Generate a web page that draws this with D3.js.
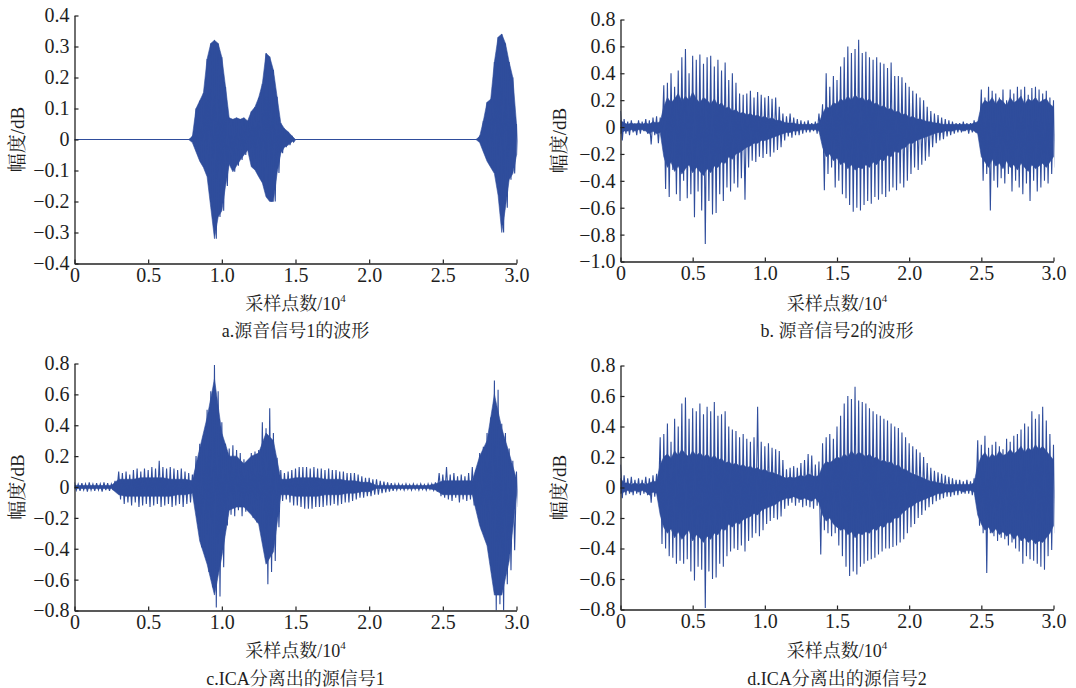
<!DOCTYPE html>
<html><head><meta charset="utf-8">
<script src="https://cdn.jsdelivr.net/npm/d3@7"></script>
<style>
body{margin:0;background:#fff}
svg text{font-family:"Liberation Serif","Times New Roman","Noto Serif CJK SC","Noto Sans CJK SC",serif;fill:#1e1e1e}
</style></head><body>
<svg id="chart" width="1076" height="688"></svg>
<script>
// ---------- data ----------
const samples = d3.range(0, 30001, 250);      // envelope positions (sample index)
const coarseSamples = d3.range(0, 30001, 500);
const xTicks = [0, 5000, 10000, 15000, 20000, 25000, 30000];
const xTickLabels = ["0", "0.5", "1.0", "1.5", "2.0", "2.5", "3.0"];
const yTicksA = [-0.4, -0.3, -0.2, -0.1, 0, 0.1, 0.2, 0.3, 0.4];
const yLabelsA = ["−0.4", "−0.3", "−0.2", "−0.1", "0", "0.1", "0.2", "0.3", "0.4"];
const yTicksB = [-1.0, -0.8, -0.6, -0.4, -0.2, 0, 0.2, 0.4, 0.6, 0.8];
const yLabelsB = ["−1.0", "−0.8", "−0.6", "−0.4", "−0.2", "0", "0.2", "0.4", "0.6", "0.8"];
const yTicksCD = [-0.8, -0.6, -0.4, -0.2, 0, 0.2, 0.4, 0.6, 0.8];
const yLabelsCD = ["−0.8", "−0.6", "−0.4", "−0.2", "0", "0.2", "0.4", "0.6", "0.8"];
const titles = ["a.源音信号1的波形", "b. 源音信号2的波形", "c.ICA分离出的源信号1", "d.ICA分离出的源信号2"];
const xLabelMain = "采样点数/10";
const xLabelSup = "4";
const yLabel = "幅度/dB";

// panel a: source signal 1 (peak envelope, 250-sample steps)
const aHi = [0,0,0,0,0,0,0,0,0,0,0,0,0,0,0,0,0,0,0,0,0,0,0,0,0,0,0,0,0,0,0,0,
  0.01,0.10,0.125,0.15,0.26,0.31,0.32,0.31,0.265,0.17,0.07,0.065,0.07,0.065,0.07,0.06,0.09,0.105,0.135,0.18,0.278,0.267,0.224,0.138,0.053,0.035,0.025,0.012,0,
  0,0,0,0,0,0,0,0,0,0,0,0,0,0,0,0,0,0,0,0,0,0,0,0,0,0,0,0,0,0,0,0,0,0,0,0,0,0,0,0,0,0,0,0,0,0,0,0,0,
  0.01,0.06,0.12,0.13,0.25,0.33,0.34,0.31,0.25,0.20,0.05];
const aLo = [0,0,0,0,0,0,0,0,0,0,0,0,0,0,0,0,0,0,0,0,0,0,0,0,0,0,0,0,0,0,0,0,
  -0.01,-0.04,-0.07,-0.09,-0.12,-0.22,-0.32,-0.25,-0.23,-0.15,-0.08,-0.104,-0.085,-0.066,-0.05,-0.034,-0.088,-0.098,-0.12,-0.14,-0.185,-0.20,-0.20,-0.108,-0.044,-0.025,-0.018,-0.008,0,
  0,0,0,0,0,0,0,0,0,0,0,0,0,0,0,0,0,0,0,0,0,0,0,0,0,0,0,0,0,0,0,0,0,0,0,0,0,0,0,0,0,0,0,0,0,0,0,0,0,
  -0.01,-0.04,-0.07,-0.09,-0.11,-0.18,-0.30,-0.22,-0.13,-0.11,-0.05];

// panel b: source signal 2
const bHi = [0.12,0.06,0.04,0.05,0.03,0.05,0.04,0.06,0.05,0.07,0.08,0.07,
  0.31,0.33,0.40,0.30,0.42,0.52,0.58,0.40,0.53,0.50,0.54,0.47,0.52,0.53,0.45,0.50,0.42,0.48,0.35,0.40,0.33,0.25,0.24,0.25,0.27,0.22,0.26,0.24,0.22,0.23,0.21,0.22,0.15,0.10,0.08,0.10,0.07,0.06,0.05,0.04,0.05,0.03,0.04,0.10,
  0.17,0.40,0.30,0.38,0.35,0.45,0.52,0.60,0.55,0.58,0.65,0.55,0.56,0.52,0.50,0.52,0.48,0.47,0.44,0.48,0.38,0.38,0.37,0.33,0.30,0.27,0.25,0.22,0.20,0.15,0.12,0.10,0.09,0.07,0.06,0.05,0.04,0.03,0.03,0.04,0.03,0.03,0.05,0.04,
  0.28,0.22,0.30,0.27,0.25,0.22,0.28,0.20,0.28,0.25,0.30,0.28,0.30,0.24,0.29,0.30,0.28,0.25,0.27,0.22,0.20];
const bLo = [-0.10,-0.05,-0.06,-0.04,-0.06,-0.05,-0.03,-0.05,-0.13,-0.06,-0.12,-0.08,
  -0.46,-0.52,-0.32,-0.50,-0.55,-0.40,-0.53,-0.50,-0.67,-0.48,-0.62,-0.87,-0.55,-0.65,-0.64,-0.50,-0.55,-0.45,-0.48,-0.42,-0.45,-0.38,-0.54,-0.30,-0.25,-0.26,-0.22,-0.23,-0.20,-0.22,-0.19,-0.17,-0.15,-0.10,-0.07,-0.08,-0.06,-0.06,-0.05,-0.04,-0.04,-0.03,-0.05,-0.06,
  -0.47,-0.35,-0.30,-0.45,-0.40,-0.50,-0.53,-0.58,-0.63,-0.60,-0.62,-0.58,-0.55,-0.57,-0.52,-0.54,-0.50,-0.52,-0.48,-0.45,-0.47,-0.42,-0.45,-0.40,-0.35,-0.30,-0.32,-0.28,-0.25,-0.22,-0.15,-0.12,-0.10,-0.09,-0.07,-0.06,-0.05,-0.04,-0.04,-0.03,-0.05,-0.04,-0.04,-0.08,
  -0.40,-0.35,-0.62,-0.40,-0.45,-0.38,-0.42,-0.35,-0.48,-0.40,-0.45,-0.50,-0.42,-0.55,-0.40,-0.48,-0.45,-0.40,-0.42,-0.35,-0.30];
const bCoreHi = [0.05,0.03,0.02,0.03,0.02,0.03,0.02,0.03,0.02,0.04,0.03,0.04,
  0.15,0.22,0.18,0.21,0.25,0.19,0.23,0.20,0.26,0.21,0.18,0.22,
  0.20,0.17,0.21,0.16,0.18,0.14,0.15,0.12,0.13,0.10,0.11,0.09,
  0.10,0.08,0.09,0.07,0.08,0.06,0.07,0.05,0.05,0.04,0.03,0.03,
  0.03,0.02,0.02,0.02,0.02,0.02,0.02,0.03,
  0.10,0.15,0.14,0.18,0.17,0.21,0.19,0.23,0.20,0.24,0.21,0.22,
  0.19,0.21,0.17,0.18,0.15,0.16,0.13,0.14,0.11,0.12,0.09,0.10,
  0.07,0.08,0.06,0.06,0.05,0.04,0.04,0.03,0.03,0.02,0.02,0.02,
  0.02,0.02,0.02,0.02,0.02,0.02,0.03,0.04,
  0.16,0.20,0.18,0.22,0.17,0.21,0.19,0.16,0.22,0.18,0.20,0.23,0.17,0.21,0.19,0.22,0.18,0.20,0.21,0.17,0.15];
const bCoreLo = [-0.05,-0.03,-0.03,-0.02,-0.03,-0.02,-0.02,-0.03,-0.05,-0.03,-0.05,-0.04,
  -0.22,-0.30,-0.26,-0.33,-0.29,-0.35,-0.31,-0.28,-0.34,-0.30,-0.33,-0.36,
  -0.31,-0.34,-0.29,-0.30,-0.26,-0.27,-0.22,-0.24,-0.20,-0.19,-0.17,-0.15,
  -0.14,-0.12,-0.12,-0.10,-0.10,-0.09,-0.08,-0.07,-0.06,-0.05,-0.04,-0.04,
  -0.03,-0.03,-0.02,-0.02,-0.02,-0.02,-0.02,-0.03,
  -0.15,-0.22,-0.20,-0.25,-0.23,-0.28,-0.26,-0.31,-0.28,-0.32,-0.30,-0.31,
  -0.28,-0.30,-0.26,-0.28,-0.24,-0.25,-0.21,-0.22,-0.18,-0.19,-0.16,-0.15,
  -0.12,-0.12,-0.10,-0.09,-0.08,-0.07,-0.06,-0.05,-0.04,-0.04,-0.03,-0.03,
  -0.03,-0.02,-0.02,-0.03,-0.02,-0.02,-0.03,-0.05,
  -0.22,-0.26,-0.30,-0.24,-0.29,-0.27,-0.31,-0.25,-0.30,-0.28,-0.32,-0.27,-0.30,-0.33,-0.28,-0.31,-0.29,-0.27,-0.30,-0.26,-0.22];

// panel c: ICA separated source 1
const cHi = [0.03,0.02,0.025,0.02,0.03,0.02,0.025,0.02,0.03,0.025,0.02,0.04,
  0.10,0.09,0.10,0.08,0.11,0.12,0.10,0.12,0.11,0.13,0.12,0.17,0.13,0.12,0.13,0.12,0.11,0.12,0.10,0.09,0.08,
  0.20,0.28,0.33,0.50,0.62,0.79,0.62,0.42,0.28,0.25,0.27,0.24,0.22,0.18,0.11,0.22,0.23,0.24,0.42,0.38,0.51,0.35,0.19,
  0.11,0.09,0.10,0.11,0.12,0.13,0.13,0.13,0.12,0.13,0.12,0.12,0.11,0.12,0.11,0.11,0.10,0.10,0.09,0.09,0.09,0.08,0.07,0.06,0.06,0.05,0.05,0.04,0.035,0.03,0.025,0.02,
  0.02,0.015,0.02,0.015,0.02,0.015,0.02,0.015,0.02,0.02,0.03,
  0.09,0.08,0.13,0.08,0.09,0.07,0.08,0.07,0.09,0.13,0.11,
  0.22,0.26,0.35,0.45,0.69,0.63,0.41,0.35,0.25,0.17,0.10];
const cLo = [-0.02,-0.025,-0.02,-0.03,-0.02,-0.025,-0.02,-0.03,-0.02,-0.025,-0.02,-0.03,
  -0.08,-0.11,-0.10,-0.12,-0.10,-0.13,-0.12,-0.11,-0.13,-0.12,-0.11,-0.13,-0.12,-0.11,-0.13,-0.12,-0.11,-0.13,-0.11,-0.10,-0.08,
  -0.20,-0.39,-0.43,-0.55,-0.65,-0.78,-0.71,-0.52,-0.25,-0.18,-0.19,-0.15,-0.19,-0.16,-0.13,-0.20,-0.23,-0.26,-0.40,-0.63,-0.55,-0.48,-0.26,
  -0.09,-0.08,-0.10,-0.12,-0.12,-0.13,-0.14,-0.14,-0.14,-0.13,-0.13,-0.13,-0.12,-0.12,-0.11,-0.12,-0.11,-0.10,-0.10,-0.09,-0.08,-0.07,-0.07,-0.06,-0.06,-0.05,-0.05,-0.04,-0.035,-0.03,-0.025,-0.02,
  -0.015,-0.02,-0.015,-0.02,-0.015,-0.02,-0.015,-0.02,-0.015,-0.02,-0.03,
  -0.06,-0.07,-0.08,-0.09,-0.07,-0.10,-0.08,-0.09,-0.08,-0.12,-0.10,
  -0.28,-0.30,-0.41,-0.55,-0.80,-0.76,-0.80,-0.63,-0.54,-0.41,-0.13];
const cCoreHi = [0.01,0.01,0.01,0.01,0.01,0.01,
  0.05,0.05,0.05,0.06,0.06,0.06,0.06,0.05,0.05,0.05,0.04,
  0.25,0.45,0.70,0.35,0.20,0.20,0.15,0.20,0.22,0.35,0.30,0.05,
  0.05,0.06,0.06,0.06,0.06,0.05,0.05,0.05,0.04,0.04,0.03,0.03,
  0.01,0.01,0.01,0.01,0.01,0.01,0.01,0.01,
  0.02,
  0.04,0.04,0.04,0.04,0.04,
  0.20,0.30,0.60,0.38,0.22,0.05];
const cCoreLo = [-0.01,-0.01,-0.01,-0.01,-0.01,-0.01,
  -0.05,-0.06,-0.06,-0.06,-0.06,-0.06,-0.06,-0.06,-0.05,-0.05,-0.04,
  -0.35,-0.50,-0.70,-0.45,-0.15,-0.13,-0.13,-0.18,-0.24,-0.50,-0.42,-0.05,
  -0.05,-0.06,-0.06,-0.06,-0.06,-0.05,-0.05,-0.05,-0.04,-0.04,-0.03,-0.03,
  -0.01,-0.01,-0.01,-0.01,-0.01,-0.01,-0.01,-0.01,
  -0.02,
  -0.05,-0.05,-0.05,-0.05,-0.05,
  -0.25,-0.38,-0.70,-0.70,-0.48,-0.05];

// panel d: ICA separated source 2
const dHi = [0.15,0.08,0.06,0.07,0.05,0.06,0.05,0.07,0.06,0.08,0.09,
  0.33,0.35,0.42,0.30,0.45,0.40,0.55,0.59,0.45,0.52,
  0.50,0.55,0.48,0.53,0.50,0.56,0.47,0.48,0.50,0.40,
  0.38,0.37,0.33,0.35,0.32,0.30,0.33,0.53,0.30,0.27,
  0.29,0.26,0.25,0.24,0.18,0.12,0.13,0.14,0.13,0.16,
  0.18,0.22,0.21,0.15,0.17,0.29,0.33,0.35,0.32,0.40,
  0.47,0.55,0.60,0.58,0.66,0.57,0.56,0.55,0.52,0.50,
  0.48,0.47,0.45,0.44,0.42,0.40,0.39,0.36,0.33,0.29,
  0.27,0.25,0.23,0.20,0.16,0.13,0.11,0.10,0.09,0.08,
  0.07,0.06,0.05,0.05,0.04,0.05,0.04,0.06,0.31,0.28,
  0.34,0.26,0.28,0.30,0.27,0.25,0.32,0.30,0.34,0.35,
  0.38,0.42,0.40,0.50,0.45,0.48,0.53,0.44,0.35,0.28];
const dLo = [-0.07,-0.05,-0.04,-0.05,-0.04,-0.05,-0.04,-0.05,-0.10,-0.06,-0.08,
  -0.37,-0.40,-0.45,-0.46,-0.50,-0.48,-0.50,-0.47,-0.55,-0.61,
  -0.52,-0.54,-0.79,-0.55,-0.60,-0.59,-0.50,-0.52,-0.45,-0.42,
  -0.40,-0.41,-0.38,-0.42,-0.35,-0.33,-0.30,-0.32,-0.28,-0.24,
  -0.22,-0.20,-0.21,-0.19,-0.14,-0.12,-0.10,-0.12,-0.10,-0.13,
  -0.12,-0.13,-0.14,-0.12,-0.44,-0.28,-0.30,-0.32,-0.30,-0.38,
  -0.45,-0.52,-0.58,-0.55,-0.57,-0.52,-0.50,-0.48,-0.47,-0.46,
  -0.44,-0.42,-0.40,-0.40,-0.39,-0.38,-0.36,-0.34,-0.30,-0.26,
  -0.24,-0.20,-0.18,-0.15,-0.13,-0.11,-0.09,-0.08,-0.07,-0.06,
  -0.06,-0.05,-0.05,-0.04,-0.04,-0.04,-0.05,-0.08,-0.25,-0.30,
  -0.56,-0.30,-0.32,-0.35,-0.33,-0.34,-0.38,-0.36,-0.40,-0.42,
  -0.50,-0.45,-0.47,-0.48,-0.50,-0.52,-0.54,-0.45,-0.41,-0.30];
const dCoreHi = [0.06,0.03,0.03,0.02,0.03,0.02,0.03,0.02,0.03,0.04,0.04,0.15,
  0.20,0.22,0.19,0.24,0.21,0.25,0.22,0.20,0.24,0.21,0.23,0.20,
  0.22,0.19,0.21,0.18,0.19,0.16,0.17,0.15,0.16,0.14,0.15,0.13,
  0.14,0.12,0.13,0.11,0.12,0.10,0.10,0.09,0.08,0.07,0.06,0.07,
  0.06,0.07,0.08,0.07,0.09,0.08,0.07,0.08,
  0.14,0.17,0.16,0.18,0.20,0.19,0.22,0.20,0.24,0.21,0.23,0.22,
  0.20,0.22,0.19,0.20,0.17,0.18,0.16,0.17,0.14,0.15,0.12,0.12,
  0.10,0.09,0.08,0.07,0.06,0.05,0.04,0.04,0.03,0.03,0.02,0.02,
  0.02,0.02,0.02,0.02,0.02,0.02,0.03,0.15,
  0.20,0.23,0.19,0.22,0.20,0.24,0.21,0.22,0.25,0.22,0.24,0.27,0.23,0.26,0.24,0.28,0.25,0.27,0.24,0.21,0.18];
const dCoreLo = [-0.04,-0.03,-0.02,-0.03,-0.02,-0.03,-0.02,-0.03,-0.05,-0.03,-0.04,-0.18,
  -0.26,-0.30,-0.27,-0.33,-0.29,-0.34,-0.31,-0.28,-0.35,-0.31,-0.33,-0.36,
  -0.32,-0.34,-0.30,-0.31,-0.27,-0.28,-0.24,-0.26,-0.23,-0.24,-0.21,-0.20,
  -0.19,-0.17,-0.18,-0.15,-0.14,-0.13,-0.12,-0.11,-0.09,-0.08,-0.07,-0.07,
  -0.06,-0.07,-0.08,-0.07,-0.08,-0.09,-0.07,-0.10,
  -0.18,-0.22,-0.20,-0.24,-0.26,-0.28,-0.27,-0.31,-0.29,-0.33,-0.30,-0.31,
  -0.29,-0.30,-0.27,-0.28,-0.25,-0.26,-0.23,-0.23,-0.20,-0.20,-0.17,-0.15,
  -0.13,-0.12,-0.10,-0.09,-0.08,-0.07,-0.06,-0.05,-0.04,-0.04,-0.03,-0.03,
  -0.03,-0.02,-0.02,-0.03,-0.02,-0.02,-0.03,-0.18,
  -0.24,-0.28,-0.26,-0.30,-0.27,-0.31,-0.29,-0.32,-0.30,-0.34,-0.31,-0.35,-0.33,-0.36,-0.34,-0.37,-0.35,-0.36,-0.33,-0.30,-0.25];

// ---------- layout ----------
const WAVE = "#2f4d9c";
const AXIS = "#222";
const panels = [
  {x0: 74.5, x1: 516.5, y0: 15.5, y1: 263.5, dom: [-0.4, 0.4], yt: yTicksA, yl: yLabelsA,
   hi: aHi, lo: aLo, coreHi: aHi, coreLo: aLo, coreX: samples, title: titles[0], xlY: 310, tY: 337, ylX: 18},
  {x0: 620.5, x1: 1053.5, y0: 19.5, y1: 261.5, dom: [-1.0, 0.8], yt: yTicksB, yl: yLabelsB,
   hi: bHi, lo: bLo, coreHi: bCoreHi, coreLo: bCoreLo, coreX: samples, title: titles[1], xlY: 310, tY: 337, ylX: 560},
  {x0: 74.5, x1: 516.5, y0: 363.5, y1: 610.5, dom: [-0.8, 0.8], yt: yTicksCD, yl: yLabelsCD,
   hi: cHi, lo: cLo, coreHi: cCoreHi, coreLo: cCoreLo, coreX: coarseSamples, title: titles[2], xlY: 657, tY: 685, ylX: 18},
  {x0: 620.5, x1: 1053.5, y0: 365.5, y1: 609.5, dom: [-0.8, 0.8], yt: yTicksCD, yl: yLabelsCD,
   hi: dHi, lo: dLo, coreHi: dCoreHi, coreLo: dCoreLo, coreX: samples, title: titles[3], xlY: 657, tY: 685, ylX: 560}
];

const svg = d3.select("#chart");
const defs = svg.append("defs");
const half = (samples[1] - samples[0]) / 2;

panels.forEach((p, k) => {
  const x = d3.scaleLinear().domain([0, 30000]).range([p.x0, p.x1]);
  const y = d3.scaleLinear().domain(p.dom).range([p.y1, p.y0]);
  const g = svg.append("g");

  defs.append("clipPath").attr("id", "clip" + k).append("rect")
    .attr("x", p.x0).attr("y", p.y0 - 2).attr("width", p.x1 - p.x0 + 1).attr("height", p.y1 - p.y0 + 2);
  const w = g.append("g").attr("clip-path", `url(#clip${k})`);

  // dense core of the waveform
  const core = p.coreHi.map((h, i) => ({s: p.coreX[i], h: h, l: p.coreLo[i]}));
  w.append("path")
    .attr("d", d3.area().x(d => x(d.s)).y0(d => y(d.l)).y1(d => y(d.h))(core))
    .attr("fill", WAVE).attr("stroke", WAVE).attr("stroke-width", 0.6);

  // individual oscillation peaks
  const pts = [];
  p.hi.forEach((h, i) => { pts.push([samples[i], h]); pts.push([samples[i] + half, p.lo[i]]); });
  w.append("path")
    .attr("d", d3.line().x(d => x(d[0])).y(d => y(d[1]))(pts))
    .attr("fill", "none").attr("stroke", WAVE).attr("stroke-width", 1.1).attr("stroke-linejoin", "miter");

  // axes
  const xa = d3.axisBottom(x).tickValues(xTicks).tickFormat((d, i) => xTickLabels[i])
    .tickSizeInner(-4).tickSizeOuter(0).tickPadding(4);
  const ya = d3.axisLeft(y).tickValues(p.yt).tickFormat((d, i) => p.yl[i])
    .tickSizeInner(-4).tickSizeOuter(0).tickPadding(5);
  const gx = g.append("g").attr("transform", `translate(0,${p.y1})`).call(xa);
  const gy = g.append("g").attr("transform", `translate(${p.x0},0)`).call(ya);
  [gx, gy].forEach(a => {
    a.select(".domain").attr("stroke", AXIS).attr("stroke-width", 1.3);
    a.selectAll(".tick line").attr("stroke", AXIS).attr("stroke-width", 1.2);
    a.selectAll(".tick text").attr("font-size", 20).attr("fill", "#1e1e1e")
      .style("font-family", '"Liberation Serif","Times New Roman",serif');
  });

  const cx = (p.x0 + p.x1) / 2;
  const xl = g.append("text").attr("x", cx).attr("y", p.xlY).attr("text-anchor", "middle").attr("font-size", 18);
  xl.append("tspan").text(xLabelMain);
  xl.append("tspan").attr("font-size", 11).attr("dy", -8).text(xLabelSup);
  g.append("text").attr("x", cx).attr("y", p.tY).attr("text-anchor", "middle").attr("font-size", 18).text(p.title);
  g.append("text").attr("transform", `translate(${p.ylX + 6},${(p.y0 + p.y1) / 2}) rotate(-90)`)
    .attr("text-anchor", "middle").attr("font-size", 19).text(yLabel);
});
</script>
</body></html>
